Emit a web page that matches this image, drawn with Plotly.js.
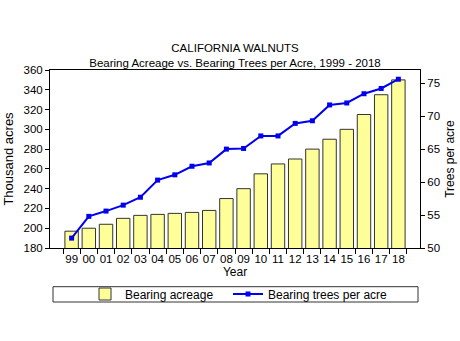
<!DOCTYPE html>
<html>
<head>
<meta charset="utf-8">
<script src="https://cdn.plot.ly/plotly-3.0.1.min.js"></script>
<style>html,body{margin:0;padding:0;background:#fff;}#chart{width:460px;height:341px;}</style>
</head>
<body>
<div id="chart"></div>
<script>
var years = ["99","00","01","02","03","04","05","06","07","08","09","10","11","12","13","14","15","16","17","18"];
var bearingAcreage = [197, 200, 204, 210, 213, 214, 215, 216, 218, 230, 240, 255, 265, 270, 280, 290, 300, 315, 335, 350];
var treesPerAcre = [51.5, 54.8, 55.6, 56.5, 57.7, 60.3, 61.1, 62.4, 62.9, 65.0, 65.1, 67.0, 67.0, 68.9, 69.3, 71.7, 72.0, 73.4, 74.2, 75.6];
var leftTicks = [180, 200, 220, 240, 260, 280, 300, 320, 340, 360];
var rightTicks = [50, 55, 60, 65, 70, 75];

var font = "Liberation Sans, Arial, sans-serif";

var traces = [
  {
    type: "bar", x: years, y: bearingAcreage, name: "Bearing acreage",
    marker: {color: "#FFFF99", line: {color: "#333333", width: 1}},
    yaxis: "y", legend: "legend"
  },
  {
    type: "scatter", mode: "lines+markers", x: years, y: treesPerAcre,
    name: "Bearing trees per acre", yaxis: "y2", legend: "legend2",
    line: {color: "#0000EE", width: 2},
    marker: {symbol: "square", size: 5, color: "#0000EE"}
  }
];

var legendBase = {
  orientation: "h", xanchor: "left",
  y: -(294 - 248) / 178, yanchor: "middle",
  bgcolor: "rgba(0,0,0,0)", borderwidth: 0,
  font: {family: font, size: 12}
};

var layout = {
  width: 460, height: 341,
  margin: {l: 50, r: 40, t: 70, b: 93},
  paper_bgcolor: "#fff", plot_bgcolor: "#fff",
  font: {family: font, size: 12, color: "#000"},
  bargap: 0.22,
  showlegend: true,
  title: {
    text: "CALIFORNIA WALNUTS<br>Bearing Acreage vs. Bearing Trees per Acre, 1999 - 2018",
    font: {family: font, size: 11.5, color: "#000"},
    x: 0.5, xref: "paper", xanchor: "center",
    y: 1 - 52 / 341, yref: "container", yanchor: "middle"
  },
  xaxis: {
    type: "category", tickson: "boundaries", tickangle: 0,
    ticks: "outside", ticklen: 5, tickcolor: "#000",
    showline: true, linecolor: "#000", linewidth: 1, mirror: true,
    showgrid: false, zeroline: false,
    tickfont: {family: font, size: 11.5},
    title: {text: "Year", font: {family: font, size: 12}, standoff: 2}
  },
  yaxis: {
    range: [180, 360], tickmode: "array", tickvals: leftTicks,
    ticks: "outside", ticklen: 4, tickcolor: "#000",
    showline: true, linecolor: "#000", linewidth: 1, mirror: false,
    showgrid: false, zeroline: false,
    tickfont: {family: font, size: 11.5},
    title: {text: "Thousand acres", font: {family: font, size: 13}, standoff: 6}
  },
  yaxis2: {
    overlaying: "y", side: "right",
    range: [50, 77], tickmode: "array", tickvals: rightTicks,
    ticks: "outside", ticklen: 4, tickcolor: "#000",
    showline: true, linecolor: "#000", linewidth: 1,
    showgrid: false, zeroline: false,
    tickfont: {family: font, size: 11.5},
    title: {text: "Trees per acre", font: {family: font, size: 12}, standoff: 6}
  },
  legend: Object.assign({}, legendBase, {x: (85 - 50) / 370}),
  legend2: Object.assign({}, legendBase, {x: (228 - 50) / 370}),
  shapes: [
    {type: "rect", xref: "paper", yref: "paper",
     x0: 3 / 370, x1: 368 / 370, y0: -(286.7 - 248) / 178, y1: -(302 - 248) / 178,
     line: {color: "#333333", width: 1}, fillcolor: "rgba(0,0,0,0)", layer: "below"}
  ]
};

Plotly.newPlot("chart", traces, layout, {displayModeBar: false, staticPlot: true});
</script>
</body>
</html>
